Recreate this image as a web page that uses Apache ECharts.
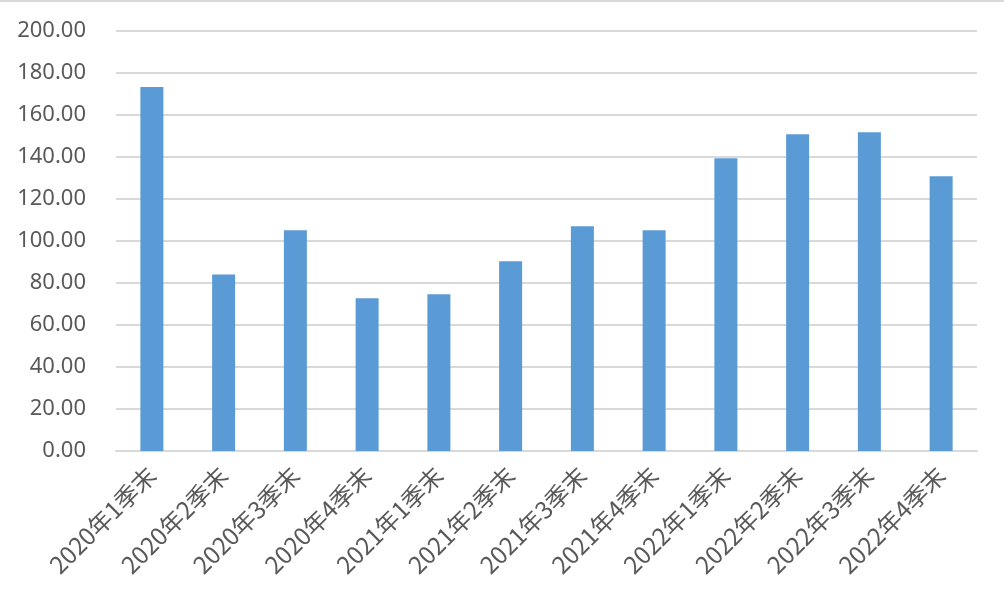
<!DOCTYPE html>
<html>
<head>
<meta charset="utf-8">
<script src="https://cdn.jsdelivr.net/npm/echarts@6/dist/echarts.min.js"></script>
<style>
  html, body { margin: 0; padding: 0; background: #fff; }
  #chart { width: 1004px; height: 602px; }
</style>
</head>
<body>
<div id="chart"></div>
<script>
const categories = [
  '2020年1季末', '2020年2季末', '2020年3季末', '2020年4季末',
  '2021年1季末', '2021年2季末', '2021年3季末', '2021年4季末',
  '2022年1季末', '2022年2季末', '2022年3季末', '2022年4季末'
]
const values = [173.3, 84.1, 105.1, 72.7, 74.6, 90.3, 107.0, 105.1, 139.4, 150.8, 151.8, 130.8]

const chart = echarts.init(document.getElementById('chart'))
chart.setOption({
  animation: false,
  textStyle: {
    fontFamily: '"Noto Sans", "Noto Sans CJK SC", sans-serif'
  },
  graphic: [
    {
      type: 'rect',
      shape: { x: 0, y: 0, width: 1004, height: 2 },
      style: { fill: '#d9d9d9' }
    }
  ],
  grid: {
    left: 116,
    right: 27,
    top: 31,
    bottom: 151
  },
  xAxis: {
    type: 'category',
    data: categories,
    axisTick: { show: false },
    axisLine: {
      lineStyle: { color: '#d9d9d9', width: 2 }
    },
    axisLabel: {
      rotate: 45,
      interval: 0,
      margin: 20,
      color: '#595959',
      fontSize: 24,
      fontFamily: '"Noto Sans CJK SC", sans-serif'
    }
  },
  yAxis: {
    type: 'value',
    min: 0,
    max: 200,
    interval: 20,
    axisLine: { show: false },
    axisTick: { show: false },
    splitLine: {
      lineStyle: { color: '#d9d9d9', width: 2 }
    },
    axisLabel: {
      margin: 30,
      color: '#595959',
      fontSize: 22,
      formatter: v => v.toFixed(2)
    }
  },
  series: [
    {
      type: 'bar',
      data: values,
      barWidth: 23,
      itemStyle: { color: '#5b9bd5' }
    }
  ]
})
</script>
</body>
</html>
